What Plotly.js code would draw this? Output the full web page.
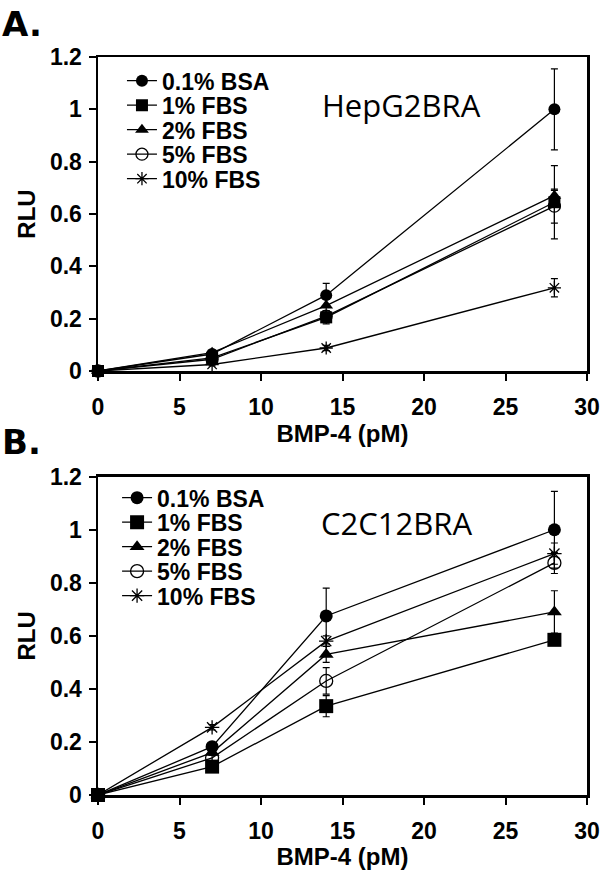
<!DOCTYPE html>
<html>
<head>
<meta charset="utf-8">
<script src="https://cdn.plot.ly/plotly-3.0.1.min.js"></script>
<style>html,body{margin:0;padding:0;background:#fff;}#chart{width:600px;height:870px;}</style>
</head>
<body>
<div id="chart"></div>
<script>
// ---- data ----
const doses = [0, 7, 14, 28];
const seriesNames = ["0.1% BSA", "1% FBS", "2% FBS", "5% FBS", "10% FBS"];
const seriesSymbols = ["circle", "square", "triangle-up", "circle-open", "asterisk-open"];

// Panel A: HepG2BRA
const hepBSA    = [0, 0.065, 0.29, 1.00];
const hepBSAErr = [0, 0.01, 0.045, 0.155];
const hepFBS1    = [0, 0.05, 0.205, 0.645];
const hepFBS1Err = [0, 0.01, 0.025, 0.14];
const hepFBS2    = [0, 0.07, 0.25, 0.67];
const hepFBS2Err = [0, 0.01, 0.03, 0.02];
const hepFBS5    = [0, 0.045, 0.21, 0.63];
const hepFBS5Err = [0, 0.01, 0.02, 0.065];
const hepFBS10    = [0, 0.025, 0.088, 0.318];
const hepFBS10Err = [0, 0.005, 0.01, 0.035];

// Panel B: C2C12BRA
const c2cBSA    = [0, 0.182, 0.675, 1.00];
const c2cBSAErr = [0, 0.01, 0.105, 0.145];
const c2cFBS1    = [0, 0.107, 0.335, 0.585];
const c2cFBS1Err = [0, 0.01, 0.04, 0.02];
const c2cFBS2    = [0, 0.16, 0.53, 0.69];
const c2cFBS2Err = [0, 0.01, 0.03, 0.08];
const c2cFBS5    = [0, 0.14, 0.43, 0.875];
const c2cFBS5Err = [0, 0.01, 0.05, 0.04];
const c2cFBS10    = [0, 0.255, 0.58, 0.91];
const c2cFBS10Err = [0, 0.01, 0.02, 0.04];

const xTicks = [0, 5, 10, 15, 20, 25, 30];
const yTicks = [0, 0.2, 0.4, 0.6, 0.8, 1, 1.2];

const hepVals = [hepBSA, hepFBS1, hepFBS2, hepFBS5, hepFBS10];
const hepErrs = [hepBSAErr, hepFBS1Err, hepFBS2Err, hepFBS5Err, hepFBS10Err];
const c2cVals = [c2cBSA, c2cFBS1, c2cFBS2, c2cFBS5, c2cFBS10];
const c2cErrs = [c2cBSAErr, c2cFBS1Err, c2cFBS2Err, c2cFBS5Err, c2cFBS10Err];

// ---- traces ----
function makeTrace(i, vals, errs, xa, ya, leg, big) {
  const sym = seriesSymbols[i];
  let size = big ? 13 : 12;
  if (sym === "square") size = big ? 14 : 12;
  if (sym === "asterisk-open") size = big ? 12 : 11;
  return {
    type: "scatter", mode: "lines+markers",
    x: doses, y: vals,
    name: seriesNames[i],
    xaxis: xa, yaxis: ya, legend: leg,
    cliponaxis: false,
    line: {color: "#000", width: 1.3},
    marker: {symbol: sym, size: size, color: "#000",
             line: {color: "#000", width: sym.indexOf("open") >= 0 ? 1.3 : 0}},
    error_y: {type: "data", array: errs, visible: true, color: "#000", thickness: 1.2, width: 3.5}
  };
}
const traces = [];
for (let i = 0; i < 5; i++) traces.push(makeTrace(i, hepVals[i], hepErrs[i], "x", "y", "legend", false));
for (let i = 0; i < 5; i++) traces.push(makeTrace(i, c2cVals[i], c2cErrs[i], "x2", "y2", "legend2", true));

const tickFont = {family: "Liberation Sans, Arial, sans-serif", size: 23, color: "#000", weight: "bold"};
const titleFont = {family: "Liberation Sans, Arial, sans-serif", size: 24, color: "#000", weight: "bold"};

function xAxis(anchor) {
  return {
    anchor: anchor, domain: [0, 1], range: [0, 30],
    tickvals: xTicks, ticks: "outside", ticklen: 7, tickwidth: 2, tickcolor: "#000",
    showline: true, linewidth: 2.5, linecolor: "#000", mirror: true,
    showgrid: false, zeroline: false,
    tickfont: tickFont, ticklabelstandoff: 7,
    title: {text: "BMP-4 (pM)", font: titleFont, standoff: 1}
  };
}
function yAxis(anchor, dom) {
  return {
    anchor: anchor, domain: dom, range: [0, 1.2],
    tickvals: yTicks, ticks: "outside", ticklen: 7, tickwidth: 2, tickcolor: "#000",
    showline: true, linewidth: 2.5, linecolor: "#000", mirror: true,
    showgrid: false, zeroline: false,
    tickfont: tickFont, ticklabelstandoff: 2,
    title: {text: "RLU", font: titleFont, standoff: 8}
  };
}
const legFont = {family: "Liberation Sans, Arial, sans-serif", size: 23, color: "#000", weight: "bold"};

const layout = {
  width: 600, height: 870,
  margin: {l: 98, r: 13, t: 57, b: 75},
  paper_bgcolor: "#fff", plot_bgcolor: "#fff",
  showlegend: true,
  xaxis: xAxis("y"),
  yaxis: yAxis("x", [0.5745, 1]),
  xaxis2: xAxis("y2"),
  yaxis2: yAxis("x2", [0, 0.4313]),
  legend: {x: 0.049, xanchor: "left", y: 0.997, yanchor: "top", bgcolor: "rgba(0,0,0,0)", borderwidth: 0, font: legFont, tracegroupgap: 0},
  legend2: {x: 0.039, xanchor: "left", y: 0.432, yanchor: "top", bgcolor: "rgba(0,0,0,0)", borderwidth: 0, font: legFont, tracegroupgap: 0},
  annotations: [
    {text: "A.", xref: "paper", yref: "paper", x: -0.2004, y: 1.0447, xanchor: "left", yanchor: "middle", showarrow: false,
     font: {family: "DejaVu Sans, sans-serif", size: 34, color: "#000", weight: "bold"}},
    {text: "B.", xref: "paper", yref: "paper", x: -0.2004, y: 0.4783, xanchor: "left", yanchor: "middle", showarrow: false,
     font: {family: "DejaVu Sans, sans-serif", size: 34, color: "#000", weight: "bold"}},
    {text: "HepG2BRA", xref: "x", yref: "y", x: 18.6, y: 1.016, xanchor: "center", yanchor: "middle", showarrow: false,
     font: {family: "Open Sans, sans-serif", size: 31, color: "#000"}},
    {text: "C2C12BRA", xref: "x2", yref: "y2", x: 18.3, y: 1.026, xanchor: "center", yanchor: "middle", showarrow: false,
     font: {family: "Open Sans, sans-serif", size: 31, color: "#000"}}
  ]
};

// tighter legend row spacing than Plotly's default line height, to match the reference
const legendRowStep = 24.5;
function tightenLegends(gd) {
  ["legend", "legend2"].forEach(function(id) {
    const leg = gd.querySelector("g." + id);
    if (!leg) return;
    const items = leg.querySelectorAll("g.traces");
    let y0 = null;
    items.forEach(function(item, k) {
      const tr = item.getAttribute("transform") || "";
      const m = tr.match(/translate\(\s*([-\d.]+)[ ,]+([-\d.]+)\s*\)/);
      if (!m) return;
      const x = parseFloat(m[1]), y = parseFloat(m[2]);
      if (y0 === null) y0 = y;
      item.setAttribute("transform", "translate(" + x + "," + (y0 + k * legendRowStep) + ")");
    });
  });
}

Plotly.newPlot("chart", traces, layout, {displayModeBar: false, staticPlot: true}).then(tightenLegends);
</script>
</body>
</html>
